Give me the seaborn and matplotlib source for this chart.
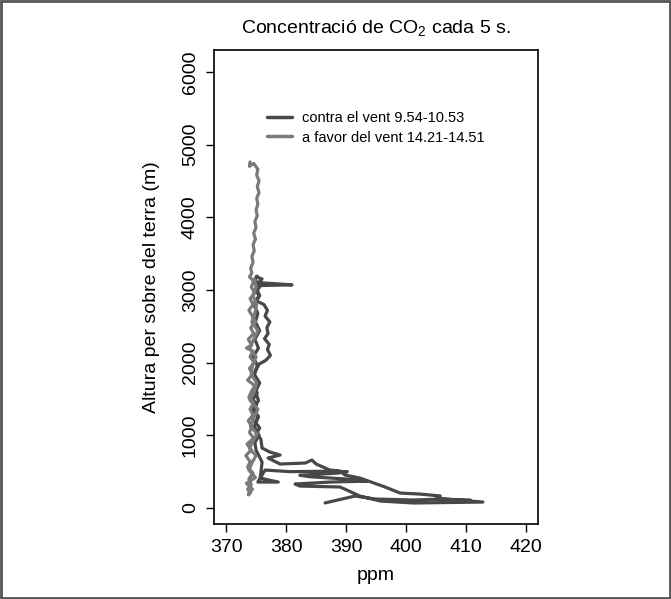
import matplotlib
matplotlib.use("Agg")
import matplotlib.pyplot as plt
from matplotlib.patches import Rectangle
import seaborn as sns
import pandas as pd

series_names = ["contra el vent 9.54-10.53", "a favor del vent 14.21-14.51"]

# flight "contra el vent": takeoff, low-level strands, climb, top, descent, low-level strands
contra_ppm = [386.5, 391.5, 394.8, 401.2, 406.5, 412.8, 401.2, 395.7, 392.3, 389.0,
              382.3, 381.5, 387.3, 393.5, 389.8, 384.0, 382.3, 388.5, 390.2, 386.0,
              380.7, 376.5, 375.3, 378.7, 375.7, 376.0, 375.0,
              374.8, 375.5, 374.7, 375.3, 374.6, 375.4, 374.9, 375.6, 374.7, 375.2,
              374.5, 375.4, 374.8, 375.6, 374.9, 375.3, 374.6, 375.5, 374.9, 375.4,
              374.8, 375.2,
              375.0, 376.0, 375.4, 381.0, 375.8, 375.2, 375.6, 375.0, 376.3, 376.9,
              376.5, 377.3, 376.8, 377.0, 376.4, 377.2, 376.9, 377.4, 376.6, 375.5,
              375.0, 374.6, 375.3, 374.8, 375.2, 374.5, 375.0, 374.6, 375.4, 374.9,
              375.6, 375.0, 375.8,
              376.0, 377.3, 379.0, 377.0, 379.0, 383.2, 384.3, 385.0, 387.3, 389.0,
              389.8, 392.3, 396.5, 399.0, 402.3, 405.7, 405.0, 410.7]
contra_alt = [70, 165, 124, 110, 124, 82, 69, 96, 165, 289,
              302, 330, 357, 370, 400, 430, 450, 480, 500, 505,
              500, 522, 357, 357, 412, 632, 797,
              900, 1000, 1120, 1240, 1360, 1480, 1600, 1720, 1840, 1960,
              2080, 2200, 2320, 2440, 2560, 2680, 2800, 2920, 3000, 3080,
              3140, 3190,
              3180, 3150, 3100, 3070, 3060, 3000, 2920, 2850, 2800, 2720,
              2640, 2560, 2480, 2400, 2330, 2250, 2180, 2100, 2030, 1980,
              1900, 1820, 1740, 1660, 1580, 1500, 1420, 1340, 1260, 1180,
              1100, 1020, 950,
              825, 770, 729, 688, 605, 619, 660, 605, 522, 509,
              454, 412, 289, 206, 192, 165, 124, 110]

favor_ppm = [374.0, 373.9, 374.6, 375.3, 375.1, 375.5, 375.2, 375.5, 375.1, 375.3,
             375.0, 375.2, 374.8, 375.0, 374.6, 374.9, 374.5, 374.7, 374.3, 374.5,
             374.1, 374.3, 373.9, 374.6, 374.2, 374.8, 374.0, 374.5, 373.8, 374.4,
             374.9, 374.1, 374.6, 373.7, 374.3, 373.4, 374.5, 374.0, 374.7, 373.9,
             374.4, 373.6, 374.8, 374.2, 373.8, 374.6, 374.0, 374.5, 373.7, 374.3,
             373.9, 374.6, 373.5, 374.2, 373.3, 374.0, 373.6, 374.5, 373.8, 374.2,
             373.6, 374.0, 373.7, 374.4, 373.4, 374.9, 373.8, 374.3, 375.0, 373.9,
             374.5, 375.2, 374.1, 374.6, 375.3, 374.0, 374.7, 375.1, 374.2, 374.4,
             375.0, 373.9, 374.6, 375.3, 374.3, 374.8, 375.1, 374.5, 375.0, 374.7]
favor_alt = [4760, 4700, 4740, 4660, 4580, 4500, 4420, 4340, 4260, 4180,
             4100, 4020, 3940, 3860, 3780, 3700, 3620, 3540, 3460, 3380,
             3300, 3230, 3180, 3120, 3040, 2960, 2880, 2800, 2720, 2640,
             2560, 2480, 2400, 2320, 2240, 2200, 2160, 2080, 2000, 1920,
             1840, 1760, 1680, 1600, 1520, 1440, 1360, 1280, 1200, 1120,
             1040, 960, 880, 800, 720, 640, 560, 480, 400, 320,
             260, 200, 180, 260, 340, 420, 520, 620, 720, 820,
             920, 1020, 1120, 1240, 1360, 1480, 1600, 1720, 1840, 1960,
             2080, 2200, 2320, 2440, 2560, 2680, 2800, 2920, 3040, 3150]

x_ticks = [370, 380, 390, 400, 410, 420]
y_ticks = [0, 1000, 2000, 3000, 4000, 5000, 6000]

df = pd.concat([
    pd.DataFrame({"ppm": contra_ppm, "alt": contra_alt, "serie": series_names[0]}),
    pd.DataFrame({"ppm": favor_ppm, "alt": favor_alt, "serie": series_names[1]}),
], ignore_index=True)

sns.set_style("ticks")
plt.rcParams["font.family"] = ["Liberation Sans", "DejaVu Sans"]
plt.rcParams["mathtext.default"] = "regular"
plt.rcParams["text.color"] = "black"
plt.rcParams["axes.labelcolor"] = "black"
plt.rcParams["xtick.color"] = "black"
plt.rcParams["ytick.color"] = "black"

fig = plt.figure(figsize=(6.71, 5.99), dpi=100)
ax = fig.add_axes([0.319, 0.1252, 0.483, 0.7913])

palette = {series_names[0]: "#484848", series_names[1]: "#7a7a7a"}
sns.lineplot(data=df, x="ppm", y="alt", hue="serie", sort=False, estimator=None,
             palette=palette, linewidth=2.3, ax=ax)

ax.set_xlim(368, 422)
ax.set_ylim(-220, 6300)
ax.set_xticks(x_ticks)
ax.set_yticks(y_ticks)
ax.tick_params(axis="both", labelsize=14, length=6, width=1, pad=5,
               direction="out", color="black", labelcolor="black")
for lab in ax.get_yticklabels():
    lab.set_rotation(90)
    lab.set_va("center")
for s in ax.spines.values():
    s.set_visible(True)
    s.set_linewidth(1.2)
    s.set_color("black")

ax.set_xlabel("ppm", fontsize=14, labelpad=8)
ax.set_ylabel("Altura per sobre del terra (m)", fontsize=14, labelpad=16)
ax.set_title("Concentració de CO$_2$ cada 5 s.", fontsize=14, pad=12)

leg = ax.legend(loc="upper left", bbox_to_anchor=(0.164, 0.872), frameon=False,
                fontsize=10.5, handlelength=1.7, handletextpad=0.7, labelspacing=0.4,
                borderpad=0, borderaxespad=0)
for line in leg.get_lines():
    line.set_linewidth(2.5)

fig.patches.append(Rectangle((0.002, 0.002), 0.996, 0.996, transform=fig.transFigure,
                             fill=False, edgecolor="#555555", linewidth=2))

fig.savefig("out.png", dpi=100)
